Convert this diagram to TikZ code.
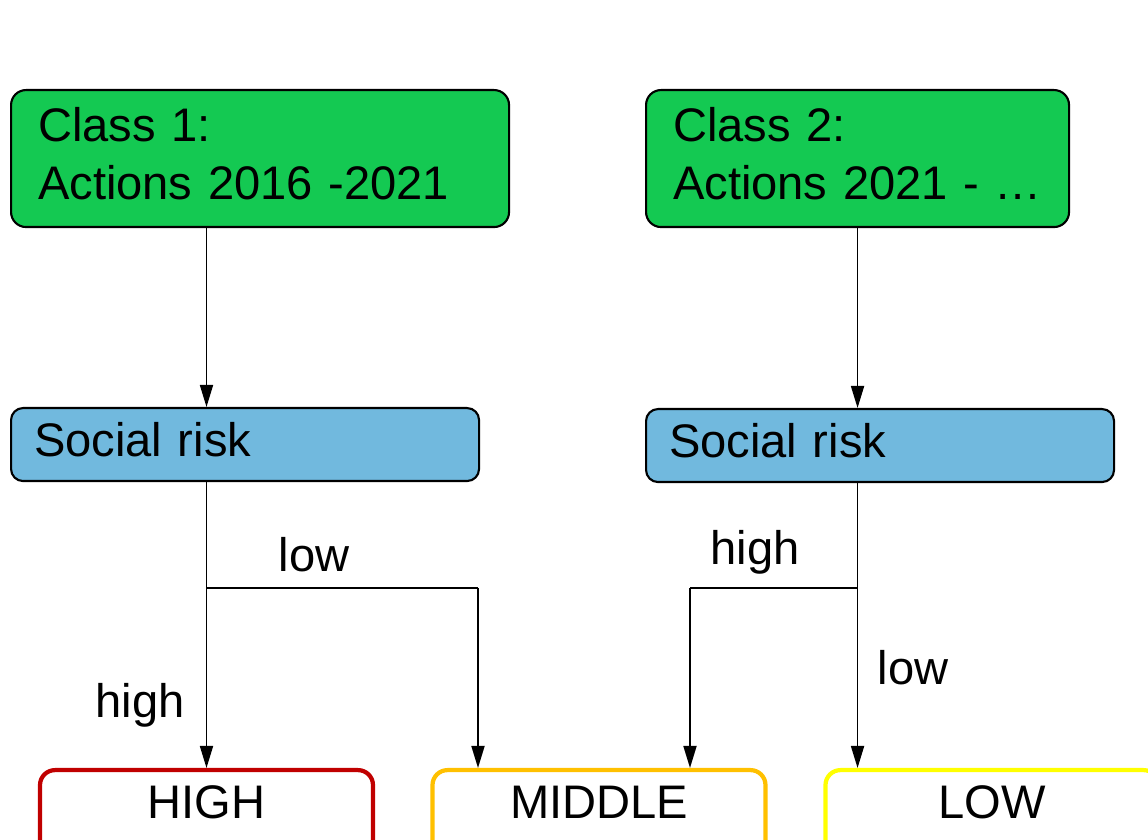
\documentclass[tikz,border=0pt]{standalone}
\usepackage{fontspec}
\setmainfont{Liberation Sans}
\usepackage{xcolor}
\usepackage{tikz}
\usetikzlibrary{shapes,arrows.meta,positioning,calc}

\definecolor{classgreen}{RGB}{20,201,82}
\definecolor{riskblue}{RGB}{113,185,222}
\definecolor{highred}{RGB}{192,0,0}
\definecolor{midorange}{RGB}{255,192,0}
\definecolor{lowyellow}{RGB}{255,255,0}

\begin{document}
\begin{tikzpicture}[
    font=\fontsize{13.4}{16.5}\selectfont,
    classbox/.style={rectangle, draw, line width=0.6pt, fill=classgreen, rounded corners=0.15cm, minimum height=1.37cm, inner xsep=0.27cm, text depth=0.68cm, align=left, anchor=north west},
    riskbox/.style={rectangle, draw, line width=0.6pt, fill=riskblue, rounded corners=0.12cm, minimum height=0.73cm, inner xsep=0.23cm, text depth=0.1cm, text width=4.22cm, align=left, anchor=north west},
    levelbox/.style={rectangle, draw, line width=1.2pt, fill=white, rounded corners=0.15cm, text width=3.13cm, inner xsep=0.1cm, align=center, text height=0.33cm, text depth=0.6cm, inner ysep=0.15cm, anchor=north},
    flow/.style={-{Triangle[width=0.13cm,length=0.22cm]}, line width=0.5pt},
    branch/.style={line width=0.5pt}
]
\useasboundingbox (0,0) rectangle (11.48,8.40);

% Classes
\node[classbox, text width=4.44cm] (class1) at (0.10,7.51) {Class 1:\\Actions 2016 -2021};
\node[classbox, text width=3.69cm] (class2) at (6.45,7.51) {Class 2:\\\mbox{Actions 2021 - …}};

% Social risk
\node[riskbox] (risk1) at (0.10,4.33) {Social risk};
\node[riskbox] (risk2) at (6.45,4.32) {Social risk};

% Levels
\node[levelbox, draw=highred] (high) at (2.065,0.72) {HIGH};
\node[levelbox, draw=midorange] (middle) at (5.99,0.72) {MIDDLE};
\node[levelbox, draw=lowyellow] (low) at (9.92,0.72) {LOW};

% Branch points
\coordinate (fork1) at (4.78,2.52);
\coordinate (fork2) at (6.90,2.52);

% Arrows
\draw[flow] (high.north |- class1.south) -- (high.north |- risk1.north);
\draw[flow] (class2.south) -- (class2.south |- risk2.north);
\draw[flow] (high.north |- risk1.south) -- (high.north);
\draw[branch] (high.north |- fork1) -- (fork1);
\draw[flow] (fork1) -- (fork1 |- middle.north);
\draw[flow] (class2.south |- risk2.south) -- (class2.south |- low.north);
\draw[branch] (class2.south |- fork2) -- (fork2);
\draw[flow] (fork2) -- (fork2 |- middle.north);

% Labels
\node (low1) at (3.14,2.85) {low};
\node (high1) at (1.40,1.35) {high};
\node (high2) at (7.55,2.88) {high};
\node (low2) at (9.13,1.72) {low};

\end{tikzpicture}
\end{document}
